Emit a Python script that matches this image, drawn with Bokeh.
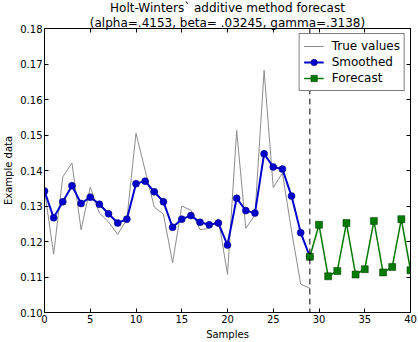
from bokeh.plotting import figure
from bokeh.models import (Range1d, LinearAxis, Span, Legend, LegendItem, Title,
                          FixedTicker, NumeralTickFormatter, CustomJSTickFormatter)
from bokeh.embed import file_html
from bokeh.resources import INLINE

# ---- data ----
true_x = list(range(30))
true_values = [0.1345, 0.1164, 0.1382, 0.1421, 0.1233, 0.1353, 0.1280, 0.1255, 0.1220, 0.1262,
               0.1505, 0.1400, 0.1297, 0.1277, 0.1140, 0.1300, 0.1288, 0.1233, 0.1237, 0.1264,
               0.1107, 0.1513, 0.1237, 0.1275, 0.1682, 0.1352, 0.1393, 0.1230, 0.1080, 0.1068]
smoothed_x = list(range(30))
smoothed = [0.1342, 0.1267, 0.1312, 0.1357, 0.1307, 0.1325, 0.1305, 0.1278, 0.1252, 0.1263,
            0.1363, 0.1370, 0.1340, 0.1312, 0.1240, 0.1263, 0.1273, 0.1254, 0.1247, 0.1252,
            0.1190, 0.1322, 0.1287, 0.1280, 0.1447, 0.1410, 0.1404, 0.1328, 0.1225, 0.1157]
forecast_x = list(range(29, 41))
forecast = [0.1157, 0.1247, 0.1102, 0.1117, 0.1252, 0.1107, 0.1122, 0.1258, 0.1113, 0.1128,
            0.1263, 0.1119]
forecast_start = 29
x_ticks = [0, 5, 10, 15, 20, 25, 30, 35, 40]
y_ticks = [0.10, 0.11, 0.12, 0.13, 0.14, 0.15, 0.16, 0.17, 0.18]
title_line1 = "Holt-Winters` additive method forecast"
title_line2 = "(alpha=.4153, beta= .03245, gamma=.3138)"
x_label = "Samples"
y_label = "Example data"
legend_labels = ["True values", "Smoothed", "Forecast"]

FONT = "DejaVu Sans"

p = figure(width=418, height=342, output_backend="svg", toolbar_location=None,
           title=None, x_range=Range1d(x_ticks[0], x_ticks[-1]),
           y_range=Range1d(y_ticks[0], y_ticks[-1]),
           min_border_left=2, min_border_right=8, min_border_top=0, min_border_bottom=2)
p.background_fill_color = "white"
p.border_fill_color = "white"
p.outline_line_color = "black"
p.outline_line_width = 1
p.xgrid.visible = False
p.ygrid.visible = False


def style_axis(ax):
    ax.axis_line_color = "black"
    ax.major_tick_line_color = "black"
    ax.major_tick_in = 4
    ax.major_tick_out = 0
    ax.minor_tick_line_color = None
    ax.major_label_text_font = FONT
    ax.major_label_text_font_size = "10px"
    ax.major_label_text_color = "black"
    ax.major_label_standoff = 2
    ax.axis_label_text_font = FONT
    ax.axis_label_text_font_size = "10px"
    ax.axis_label_text_font_style = "normal"
    ax.axis_label_text_color = "black"
    ax.axis_label_standoff = 3


p.xaxis.ticker = FixedTicker(ticks=x_ticks)
p.yaxis.ticker = FixedTicker(ticks=y_ticks)
p.yaxis.formatter = NumeralTickFormatter(format="0.00")
p.xaxis.axis_label = x_label
p.yaxis.axis_label = y_label
style_axis(p.xaxis[0])
style_axis(p.yaxis[0])

# tick-only axes on top and right (matplotlib classic style box ticks)
blank = CustomJSTickFormatter(code="return ''")
top_ax = LinearAxis(ticker=FixedTicker(ticks=x_ticks), formatter=blank)
style_axis(top_ax)
top_ax.major_label_standoff = 0
top_ax.axis_label = title_line2
top_ax.axis_label_text_font_size = "12px"
top_ax.axis_label_standoff = -1
right_ax = LinearAxis(ticker=FixedTicker(ticks=y_ticks), formatter=blank)
style_axis(right_ax)
right_ax.major_label_standoff = 0
p.add_layout(top_ax, "above")
p.add_layout(right_ax, "right")

t1 = Title(text=title_line1, align="center", text_font=FONT, text_font_size="12px",
           text_font_style="normal", text_color="black", standoff=-4)
p.add_layout(t1, "above")

r_true = p.line(true_x, true_values, line_color="#8c8c8c", line_width=1)
r_sm_line = p.line(smoothed_x, smoothed, line_color="#0000cc", line_width=2)
r_sm_pts = p.scatter(smoothed_x, smoothed, marker="circle", size=7,
                     fill_color="#0000cc", line_color="#00006e", line_width=0.5)
r_fc_line = p.line(forecast_x, forecast, line_color="#007a00", line_width=1.5)
r_fc_pts = p.scatter(forecast_x, forecast, marker="square", size=7,
                     fill_color="#007a00", line_color="#003300", line_width=0.5)

p.add_layout(Span(location=forecast_start, dimension="height", line_color="black",
                  line_width=1, line_dash="6 4"))

legend = Legend(items=[
    LegendItem(label=legend_labels[0], renderers=[r_true]),
    LegendItem(label=legend_labels[1], renderers=[r_sm_line, r_sm_pts]),
    LegendItem(label=legend_labels[2], renderers=[r_fc_line, r_fc_pts]),
], location="top_right")
legend.label_text_font = FONT
legend.label_text_font_size = "12px"
legend.label_text_color = "black"
legend.border_line_color = "black"
legend.border_line_width = 1
legend.background_fill_color = "white"
legend.background_fill_alpha = 1
legend.padding = 4
legend.spacing = 0
legend.margin = 5
legend.glyph_width = 20
legend.glyph_height = 16
legend.label_height = 16
legend.label_standoff = 8
p.add_layout(legend)

open("out.html", "w").write(file_html(p, INLINE))
